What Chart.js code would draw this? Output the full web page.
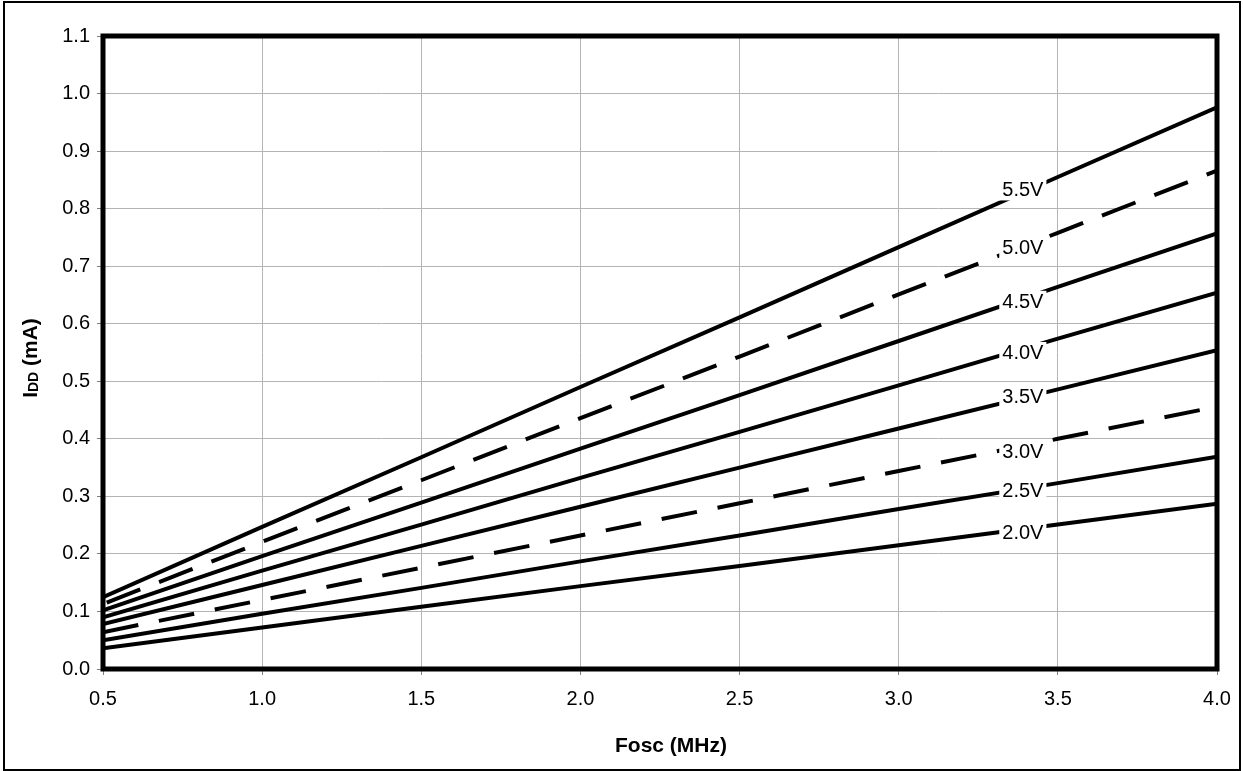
<!DOCTYPE html>
<html>
<head>
<meta charset="utf-8">
<script src="https://cdn.jsdelivr.net/npm/chart.js@4/dist/chart.umd.min.js"></script>
<style>
  html, body { margin: 0; padding: 0; background: #fff; }
  #wrap { width: 1243px; height: 771px; position: relative; }
</style>
</head>
<body>
<div id="wrap"><canvas id="c" width="1243" height="771"></canvas></div>
<script>
// ---- data ----
const freqMHz = [0.5, 1.0, 1.5, 2.0, 2.5, 3.0, 3.5, 4.0];
const v55 = [0.125, 0.247, 0.368, 0.490, 0.611, 0.733, 0.855, 0.976];
const v50 = [0.113, 0.221, 0.328, 0.436, 0.543, 0.651, 0.758, 0.866];
const v45 = [0.102, 0.196, 0.289, 0.383, 0.476, 0.570, 0.664, 0.757];
const v40 = [0.090, 0.171, 0.251, 0.332, 0.412, 0.493, 0.574, 0.654];
const v35 = [0.078, 0.146, 0.214, 0.282, 0.350, 0.418, 0.486, 0.554];
const v30 = [0.064, 0.120, 0.176, 0.232, 0.288, 0.344, 0.400, 0.456];
const v25 = [0.050, 0.096, 0.141, 0.187, 0.232, 0.278, 0.323, 0.369];
const v20 = [0.036, 0.072, 0.108, 0.144, 0.179, 0.215, 0.251, 0.287];
const seriesNames = ['5.5V', '5.0V', '4.5V', '4.0V', '3.5V', '3.0V', '2.5V', '2.0V'];
const seriesValues = [v55, v50, v45, v40, v35, v30, v25, v20];
const xTickLabels = ['0.5', '1.0', '1.5', '2.0', '2.5', '3.0', '3.5', '4.0'];
const yTickLabels = ['0.0','0.1','0.2','0.3','0.4','0.5','0.6','0.7','0.8','0.9','1.0','1.1'];
const xTitle = 'Fosc (MHz)';
const labelAtMHz = 3.39;

// styles (not data)
const dashStyles = {
  '5.0V': { dash: [36, 20.2], offset: -4 },
  '3.0V': { dash: [36, 21], offset: 0 }
};
const labelNudgePx = [-3, 1, 3, 4, -1, 6, 2, 3];

const FONT = "'Liberation Sans', Arial, Helvetica, sans-serif";

const datasets = seriesNames.map((name, i) => ({
  label: name,
  data: freqMHz.map((f, j) => ({ x: f, y: seriesValues[i][j] })),
  borderColor: '#000',
  borderWidth: 4,
  borderDash: dashStyles[name] ? dashStyles[name].dash : [],
  borderDashOffset: dashStyles[name] ? dashStyles[name].offset : 0,
  borderCapStyle: 'butt',
  pointRadius: 0,
  tension: 0,
  fill: false
}));

function interp(xs, ys, x) {
  for (let i = 0; i < xs.length - 1; i++) {
    if (x >= xs[i] && x <= xs[i + 1]) {
      const t = (x - xs[i]) / (xs[i + 1] - xs[i]);
      return ys[i] + t * (ys[i + 1] - ys[i]);
    }
  }
  return ys[ys.length - 1];
}

const decor = {
  id: 'decor',
  afterDatasetsDraw(chart) {
    const ctx = chart.ctx;
    const xs = chart.scales.x, ys = chart.scales.y;
    ctx.save();
    ctx.font = '20px ' + FONT;
    ctx.textAlign = 'center';
    ctx.textBaseline = 'middle';
    seriesNames.forEach((name, i) => {
      const v = interp(freqMHz, seriesValues[i], labelAtMHz);
      const px = xs.getPixelForValue(labelAtMHz);
      const py = ys.getPixelForValue(v) + labelNudgePx[i];
      const w = ctx.measureText(name).width + 6;
      ctx.fillStyle = '#fff';
      ctx.fillRect(px - w / 2, py - 11, w, 22);
      ctx.fillStyle = '#000';
      ctx.fillText(name, px, py + 1);
    });
    ctx.restore();
  },
  afterDraw(chart) {
    const ctx = chart.ctx;
    const a = chart.chartArea;
    ctx.save();
    // outer frame
    ctx.strokeStyle = '#000';
    ctx.lineWidth = 2;
    ctx.strokeRect(4, 2, 1236, 768);
    // plot border
    ctx.lineWidth = 5;
    ctx.strokeRect(a.left, a.top, a.right - a.left, a.bottom - a.top);
    // x title
    ctx.fillStyle = '#000';
    ctx.font = 'bold 21px ' + FONT;
    ctx.textAlign = 'center';
    ctx.textBaseline = 'middle';
    ctx.fillText(xTitle, 671, 746);
    // y title: I + subscript DD + (mA), rotated
    ctx.translate(30, 358);
    ctx.rotate(-Math.PI / 2);
    ctx.textBaseline = 'alphabetic';
    ctx.textAlign = 'left';
    const big = 'bold 21px ' + FONT, small = 'bold 14px ' + FONT;
    ctx.font = big; const w1 = ctx.measureText('I').width;
    ctx.font = small; const w2 = ctx.measureText('DD').width;
    ctx.font = big; const w3 = ctx.measureText(' (mA)').width;
    let x0 = -(w1 + w2 + w3) / 2;
    const base = 7;
    ctx.font = big; ctx.fillText('I', x0, base); x0 += w1;
    ctx.font = small; ctx.fillText('DD', x0, base + 1); x0 += w2;
    ctx.font = big; ctx.fillText(' (mA)', x0, base);
    ctx.restore();
  }
};

new Chart(document.getElementById('c'), {
  type: 'line',
  data: { datasets },
  options: {
    responsive: false,
    animation: false,
    devicePixelRatio: 1,
    layout: { padding: { left: 0, top: 36, right: 26, bottom: 0 } },
    plugins: { legend: { display: false }, tooltip: { enabled: false }, title: { display: false } },
    scales: {
      x: {
        type: 'linear',
        min: 0.5, max: 4.0,
        afterFit(scale) { scale.height = 102; },
        afterBuildTicks(scale) { scale.ticks = xTickLabels.map(t => ({ value: parseFloat(t) })); },
        ticks: {
          callback: (v) => xTickLabels.find(t => parseFloat(t) === v) ?? '',
          color: '#000',
          font: { family: FONT, size: 20 },
          padding: 12,
          maxRotation: 0, autoSkip: false
        },
        grid: { color: '#b4b4b4', lineWidth: 1, tickLength: 6, tickColor: '#808080' },
        border: { display: false }
      },
      y: {
        type: 'linear',
        min: 0, max: 1.1,
        afterFit(scale) { scale.width = 103; },
        afterBuildTicks(scale) { scale.ticks = yTickLabels.map(t => ({ value: parseFloat(t) })); },
        ticks: {
          callback: (v) => yTickLabels.find(t => Math.abs(parseFloat(t) - v) < 1e-9) ?? '',
          color: '#000',
          font: { family: FONT, size: 20 },
          padding: 7,
          autoSkip: false
        },
        grid: { color: '#b4b4b4', lineWidth: 1, tickLength: 6, tickColor: '#808080' },
        border: { display: false }
      }
    }
  },
  plugins: [decor]
});
</script>
</body>
</html>
